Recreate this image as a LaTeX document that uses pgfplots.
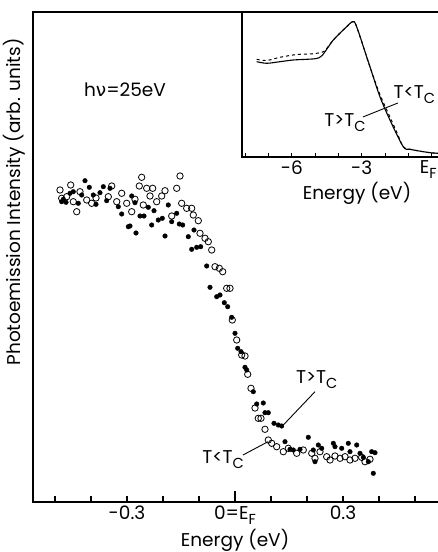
\documentclass[border=0pt]{standalone}
\usepackage{pgfplots}
\pgfplotsset{compat=1.18}
\usepackage{pgfplotstable}
\usepackage{fontspec}
\setmainfont{Poppins}
\newfontfamily\greekfont{DejaVu Sans}
\newcommand\sub[1]{\raisebox{-0.5ex}{\fontsize{14.5}{15}\selectfont #1}}

% T < Tc (open circles)
\pgfplotstableread{
E I
-0.4861 312
-0.4814 303.7
-0.4675 305.3
-0.4564 317
-0.4492 300.3
-0.4397 290.3
-0.4306 310.3
-0.4119 302
-0.3981 298.7
-0.3861 304
-0.3519 305.3
-0.3425 316
-0.3286 300.3
-0.3147 308.7
-0.3008 298.7
-0.2869 290.3
-0.2778 302.7
-0.2658 316
-0.2592 324.7
-0.2547 297
-0.2453 313.7
-0.2361 306
-0.2286 313.7
-0.2175 300.3
-0.2036 306
-0.1944 311.3
-0.1758 286
-0.1619 313.7
-0.1528 326
-0.1481 298.7
-0.1342 293.7
-0.1203 293.7
-0.1158 287
-0.1019 281.3
-0.0972 268.7
-0.0833 263.7
-0.0742 260.3
-0.0647 252
-0.0556 235.3
-0.0436 233.7
-0.0342 230.3
-0.0231 213.7
-0.0139 213.7
-0.0075 182
0.0047 162
0.0186 147
0.0278 146
0.0353 127.7
0.0444 113.7
0.0556 94
0.0647 83.7
0.0722 83.7
0.0833 72.7
0.0925 62
0.1019 58.7
0.1158 55.3
0.1342 50.3
0.1481 53.7
0.1714 48.7
0.1897 52
0.2131 48.7
0.2222 43.7
0.2361 50.3
0.2547 45.3
0.2639 42
0.2778 46
0.2917 43.7
0.3056 45.3
0.3194 42
0.3333 43.7
0.3519 44.7
0.3611 40.3
0.3750 42.7
}\opendata

% T > Tc (filled dots)
\pgfplotstableread{
E I
-0.4814 300.3
-0.4769 302.7
-0.4694 299.7
-0.4583 308.7
-0.4492 310.3
-0.4353 298.7
-0.4258 307
-0.4167 321.3
-0.4047 314.7
-0.3936 307
-0.3861 297.7
-0.3750 309.3
-0.3658 315.3
-0.3564 301.3
-0.3472 313.7
-0.3242 295.3
-0.3147 288
-0.2964 275.3
-0.2917 276
-0.2869 306
-0.2778 299.3
-0.2750 269
-0.2639 286
-0.2528 286
-0.2408 294.7
-0.2314 277
-0.2250 291.3
-0.2131 282
-0.2019 283.7
-0.1944 266
-0.1853 297
-0.1758 280.3
-0.1619 288.7
-0.1547 278
-0.1453 277
-0.1297 265.3
-0.1203 252.7
-0.1139 272
-0.1064 254.7
-0.0953 255.3
-0.0786 236
-0.0694 214.7
-0.0508 205.3
-0.0417 207
-0.0297 199.3
-0.0203 195.3
-0.0092 184.7
0.0000 168.7
0.0075 153.7
0.0167 150.3
0.0278 134.7
0.0325 132
0.0508 110.3
0.0603 98
0.0786 99
0.0833 89.3
0.0925 89.3
0.1083 78.7
0.1203 77
0.1297 76
0.1389 60.3
0.1528 52.7
0.1619 52
0.1806 52.7
0.2036 64.7
0.2175 52
0.2222 40.3
0.2314 57
0.2408 53.7
0.2731 58.7
0.2778 55.3
0.2964 53.7
0.3147 58.7
0.3194 50.3
0.3381 57
0.3472 48.7
0.3564 44.7
0.3703 40.3
0.3797 50.3
0.3842 28.7
0.3889 49.3
}\filleddata

\begin{document}
\begin{tikzpicture}[font=\fontsize{18.5}{21}\selectfont]
\begin{axis}[
  at={(0pt,0pt)}, anchor=south west,
  scale only axis, width=410pt, height=490pt,
  xmin=-0.5611, xmax=0.5778, ymin=0, ymax=490,
  axis line style={line width=1.2pt},
  ytick=\empty,
  xtick={-0.5,-0.4,-0.3,-0.2,-0.1,0,0.1,0.2,0.3,0.4,0.5},
  xticklabels={,,-0.3,,,0=E\sub{F},,,0.3,,},
  xtick pos=left, tick align=inside,
  major tick length=6.5pt,
  tick style={line width=1.1pt, black},
  extra x ticks={0}, extra x tick labels={},
  extra x tick style={major tick length=11.5pt},
]
\addplot[only marks, mark=o, mark size=3.2pt, mark options={line width=0.8pt, black}] table[x=E, y=I] {\opendata};
\addplot[only marks, mark=*, mark size=2.3pt, black] table[x=E, y=I] {\filleddata};
\node at (axis cs:-0.3056,412) {h{\greekfont ν}=25eV};
\draw[line width=0.9pt] (axis cs:0.2222,110.3) -- (axis cs:0.1342,77);
\node at (axis cs:0.227,122) {T>T\sub{C}};
\draw[line width=0.9pt] (axis cs:0.0222,47) -- (axis cs:0.0917,60.3);
\node at (axis cs:-0.0333,42) {T<T\sub{C}};
\end{axis}

\begin{axis}[
  at={(209pt,345pt)}, anchor=south west,
  scale only axis, width=201.3pt, height=145pt,
  xmin=-8.14, xmax=0.5, ymin=0, ymax=145,
  axis line style={line width=1.2pt},
  ytick=\empty,
  xtick={-8,-7,-6,-5,-4,-3,-2,-1,0},
  xticklabels={,,-6,,,-3,,,},
  xtick pos=left, tick align=inside,
  major tick length=3.5pt,
  tick style={line width=1pt, black},
  clip=false,
]
\addplot[smooth, line width=1.1pt, black] coordinates {
(-7.51,95.3) (-7.08,93.7) (-6.51,95.3) (-5.94,97) (-5.36,97.7) (-4.95,98.5)
(-4.7,101.5) (-4.22,117) (-3.72,128.7) (-3.39,135.3) (-3.22,130.3)
(-2.65,90.3) (-2.22,60.3) (-1.79,37) (-1.22,10.3) (-0.93,7.7) (-0.07,4.3) (0.5,3.5)};
\addplot[smooth, dashed, line width=1pt, black] coordinates {
(-7.51,97.7) (-7.08,96.5) (-6.51,99.7) (-5.79,102.5) (-5.22,103) (-4.85,104)
(-4.6,106) (-4.22,117) (-3.72,128.7) (-3.39,135.3) (-3.22,130.3)
(-2.65,90.3) (-2.22,62.5) (-1.79,40) (-1.5,25) (-1.22,10.3) (-0.93,7.7) (-0.07,4.3) (0.5,3.5)};
\draw[line width=0.9pt] (axis cs:-2.95,40) -- (axis cs:-1.45,54);
\node at (axis cs:-3.72,34) {T>T\sub{C}};
\node[anchor=east, inner sep=1pt] at (axis cs:0.2,62) {T<T\sub{C}};
\node[anchor=north east, inner xsep=0pt] at (axis cs:0.22,0) {E\sub{F}};
\end{axis}

\node[rotate=90] at (-19pt,300pt) {Photoemission Intensity (arb. units)};
\node at (202pt,-38pt) {Energy (eV)};
\node at (324pt,309pt) {Energy (eV)};

\pgfresetboundingbox
\path[use as bounding box] (-33pt,-50pt) rectangle (405pt,502pt);
\end{tikzpicture}
\end{document}
